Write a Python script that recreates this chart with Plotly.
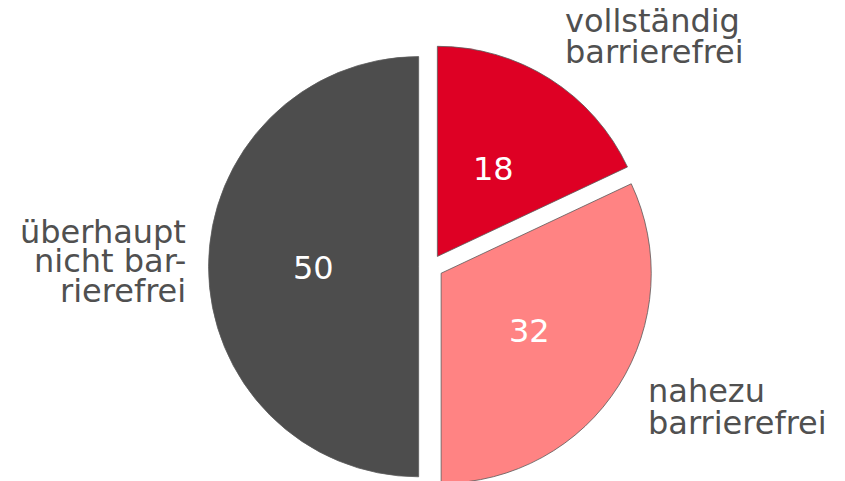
import math
import plotly.graph_objects as go

labels = ["vollständig barrierefrei", "nahezu barrierefrei", "überhaupt nicht barrierefrei"]
values = [18, 32, 50]
colors = ["#DE0024", "#FF8383", "#4D4D4D"]
label_lines = [["vollständig", "barrierefrei"], ["nahezu", "barrierefrei"], ["überhaupt", "nicht bar-", "rierefrei"]]

W, H = 845, 481
FONT = "DejaVu Sans"
FS = 32
PULL = 0.058
DOM_X = [0.1004, 0.9004]
DOM_Y = [0.0, 0.9243]

fig = go.Figure(go.Pie(
    labels=labels,
    values=values,
    sort=False,
    direction="clockwise",
    rotation=0,
    pull=[PULL] * len(values),
    marker=dict(colors=colors, line=dict(color="#5A5A5A", width=0.8)),
    textinfo="none",
    hoverinfo="label+value",
    domain=dict(x=DOM_X, y=DOM_Y),
    showlegend=False,
))

# value labels: placed halfway out along each slice's bisector (pie geometry derived from domain)
cx = W * (DOM_X[0] + DOM_X[1]) / 2
cy = H * (1 - (DOM_Y[0] + DOM_Y[1]) / 2)
r = min(W * (DOM_X[1] - DOM_X[0]), H * (DOM_Y[1] - DOM_Y[0])) / 2 / (1 + PULL)
total = sum(values)
cum = 0
for v in values:
    mid = math.radians((cum + v / 2) / total * 360)
    cum += v
    d = (PULL + 0.5) * r
    px = cx + d * math.sin(mid)
    py = cy - d * math.cos(mid) + 1.5
    fig.add_annotation(
        text=str(v), x=px / W, y=1 - py / H, xref="paper", yref="paper",
        xanchor="center", yanchor="middle", showarrow=False,
        font=dict(family=FONT, size=FS, color="white"),
    )

# outside category labels, one annotation per line (anchor x, first-line centre y, line gap)
label_pos = [
    dict(x=555, y=13, anchor="left", gap=31),
    dict(x=638, y=383, anchor="left", gap=32),
    dict(x=180, y=224, anchor="right", gap=29.5),
]
for lines, pos in zip(label_lines, label_pos):
    for i, t in enumerate(lines):
        fig.add_annotation(
            text=t, x=pos["x"] / W, y=1 - (pos["y"] + i * pos["gap"]) / H,
            xref="paper", yref="paper", xanchor=pos["anchor"], yanchor="middle",
            showarrow=False, font=dict(family=FONT, size=FS, color="#505050"),
        )

fig.update_layout(
    width=W, height=H,
    margin=dict(l=0, r=0, t=0, b=0),
    paper_bgcolor="white", plot_bgcolor="white",
)

fig.write_html("out.html")
